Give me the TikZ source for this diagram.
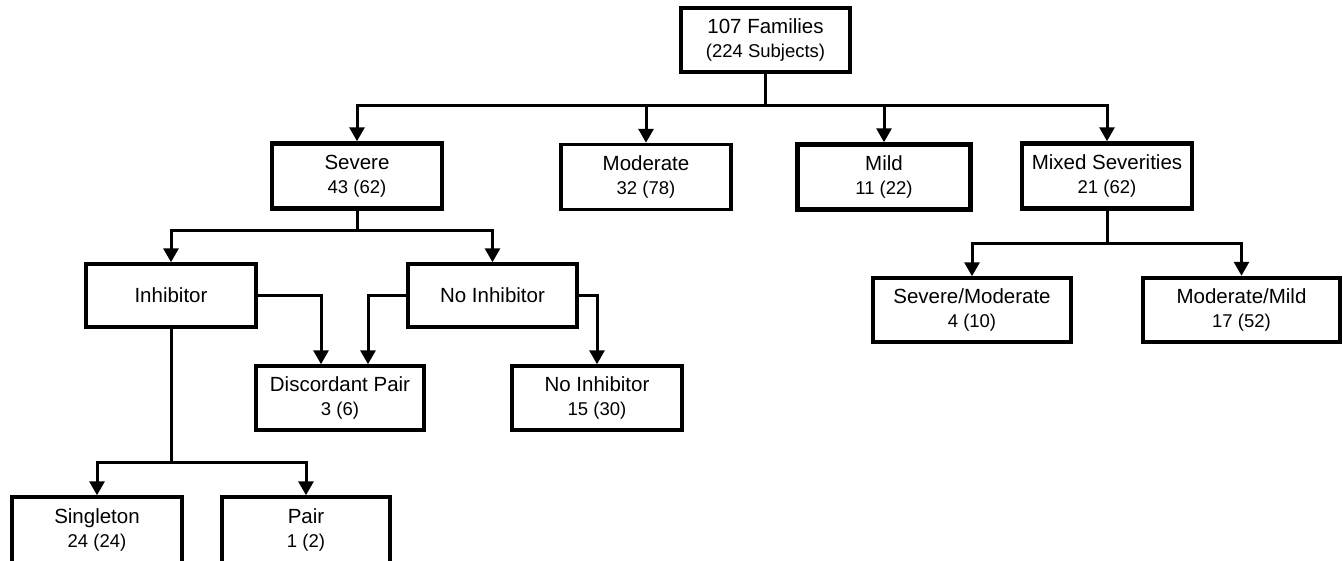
\documentclass[tikz,border=0pt]{standalone}
\usepackage{fontspec}
\setmainfont{Liberation Sans}
\usetikzlibrary{arrows.meta}
\tikzset{
  box/.style={draw=black, line width=3.5pt, fill=white, minimum width=170pt, minimum height=65pt, inner sep=0pt, align=center, font=\fontsize{20.5}{24}\selectfont},
  thickbox/.style={box, line width=4.5pt},
  conn/.style={line width=3pt, draw=black, line cap=butt},
  arr/.style={conn, -{Triangle[width=15pt,length=14pt]}},
  sub/.style={}
}
\newcommand{\sline}[1]{{\fontsize{18.5}{24}\selectfont #1}}
\begin{document}
\begin{tikzpicture}[x=1pt,y=-1pt]
\useasboundingbox (0,0) rectangle (1343,560);
\fill[white] (0,0) rectangle (1343,560);
% nodes
\node[thickbox, minimum width=169pt, minimum height=64pt] (top) at (765.5,40) {107 Families\\\sline{(224 Subjects)}};
\node[thickbox] (sev) at (357,176) {Severe\\\sline{43 (62)}};
\node[box] (mod) at (646,177) {Moderate\\\sline{32 (78)}};
\node[thickbox, minimum width=173pt] (mild) at (884,177) {Mild\\\sline{11 (22)}};
\node[thickbox] (mix) at (1107,176) {Mixed Severities\\\sline{21 (62)}};
\node[box, minimum height=63pt] (inh) at (171,295.5) {Inhibitor};
\node[box, minimum width=169pt, minimum height=63pt] (noinh) at (492.5,295.5) {No Inhibitor};
\node[box, minimum width=168pt, minimum height=64pt] (disc) at (340,398) {Discordant Pair\\\sline{3 (6)}};
\node[box, minimum height=64pt] (noinh2) at (597,398) {No Inhibitor\\\sline{15 (30)}};
\node[box, minimum width=198pt, minimum height=64pt] (sevmod) at (972,310) {Severe/Moderate\\\sline{4 (10)}};
\node[thickbox, minimum width=197pt, minimum height=64pt] (modmild) at (1241.5,310) {Moderate/Mild\\\sline{17 (52)}};
\node[box, minimum height=66pt] (single) at (97,530) {Singleton\\\sline{24 (24)}};
\node[box, minimum width=168pt, minimum height=66pt] (pair) at (306,530) {Pair\\\sline{1 (2)}};
% junction coordinates
\coordinate (j1) at (765.5,105);
\coordinate (j2) at (357,230);
\coordinate (j3) at (171,462);
\coordinate (j4) at (1107,243);
% connectors
\draw[conn] (top.south) -- (j1);
\draw[arr] (j1) -| (sev.north);
\draw[arr] (j1) -| (mod.north);
\draw[arr] (j1) -| (mild.north);
\draw[arr] (j1) -| (mix.north);
\draw[conn] (sev.south) -- (j2);
\draw[arr] (j2) -| (inh.north);
\draw[arr] (j2) -| (noinh.north);
\draw[arr] (inh.east) -| ([xshift=-19pt]disc.north);
\draw[arr] (noinh.west) -| ([xshift=28pt]disc.north);
\draw[arr] (noinh.east) -| (noinh2.north);
\draw[conn] (inh.south) -- (j3);
\draw[arr] (j3) -| (single.north);
\draw[arr] (j3) -| (pair.north);
\draw[conn] (mix.south) -- (j4);
\draw[arr] (j4) -| (sevmod.north);
\draw[arr] (j4) -| (modmild.north);
\end{tikzpicture}
\end{document}
